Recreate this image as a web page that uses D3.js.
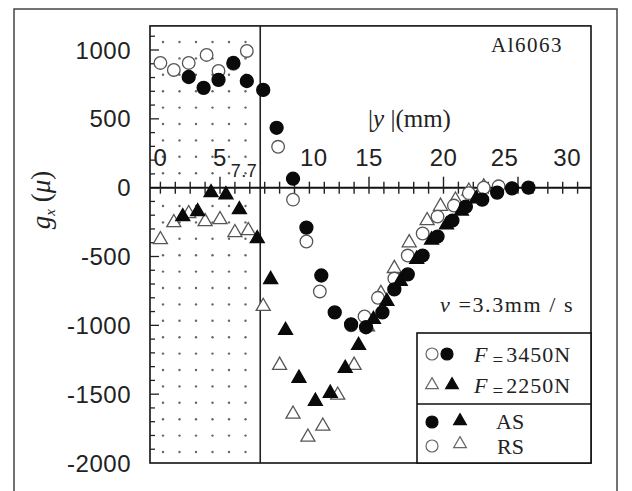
<!DOCTYPE html>
<html>
<head>
<meta charset="utf-8">
<script src="https://cdn.jsdelivr.net/npm/d3@7"></script>
<style>
  body { margin: 0; background: #fff; }
  svg { display: block; }
  .tick-label { font-family: "Liberation Sans", Arial, sans-serif; font-size: 24px; fill: #222; letter-spacing: 0.5px; }
  .serif { font-family: "Liberation Serif", "Times New Roman", serif; fill: #222; }
</style>
</head>
<body>
<svg width="632" height="491"></svg>
<script>
// **** data ****
var asHighX  = [2.9, 3.9, 4.9, 5.9, 6.8, 7.9, 8.8, 9.9, 10.8, 11.8, 12.7, 13.8, 14.8, 15.9, 16.7, 17.6, 18.6, 19.6, 20.6, 21.5, 22.6, 23.6, 24.6, 25.7];
var asHighY  = [804, 725, 783, 906, 775, 710, 435, 65, -290, -638, -906, -993, -1014, -906, -739, -630, -493, -355, -239, -138, -87, -36, -5, 0];
var rsHighX  = [1.0, 1.9, 2.9, 4.1, 4.9, 5.9, 6.8, 8.9, 9.9, 10.8, 11.7, 13.8, 14.7, 15.6, 16.7, 17.6, 18.6, 19.6, 20.7, 21.7, 22.7, 23.7];
var rsHighY  = [906, 855, 906, 964, 848, 899, 993, 297, -87, -391, -754, -1000, -935, -800, -660, -493, -333, -210, -130, -40, 0, 10];
var asLowX   = [2.5, 3.5, 4.4, 5.4, 6.3, 7.5, 8.4, 9.4, 10.3, 11.4, 12.4, 13.4, 14.3, 15.3, 16.2, 17.1, 18.2, 19.2, 20.2, 21.2, 22.2];
var asLowY   = [-210, -174, -36, -51, -159, -370, -667, -1036, -1384, -1551, -1493, -1312, -1145, -957, -826, -680, -520, -380, -270, -170, -80];
var rsLowX   = [1.0, 1.9, 2.9, 4.0, 5.0, 6.0, 6.9, 7.9, 9.0, 9.9, 10.9, 11.9, 12.9, 14.0, 14.9, 15.8, 16.7, 17.7, 18.9, 19.8, 20.8, 21.7, 22.7];
var rsLowY   = [-377, -254, -188, -246, -232, -326, -312, -862, -1290, -1645, -1812, -1732, -1507, -1290, -1010, -768, -587, -400, -239, -135, -90, -25, 5];

var xTicks = [0, 5, 10, 15, 20, 25, 30];
var xLabelPos = [1.0, 5.0, 11.3, 15.0, 20.0, 24.1, 28.3];
var yTicks = [1000, 500, 0, -500, -1000, -1500, -2000];
var boundary = 7.7;

// **** scales ****
var xScale = d3.scaleLinear().domain([0, 30]).range([145.5, 592.5]);
var yScale = d3.scaleLinear().domain([-2000, 1000]).range([463, 50]);

var svg = d3.select('svg');

var plotLeft = 150, plotRight = 591, plotTop = yScale(1175), plotBottom = 463;

// outer frame
svg.append('rect')
    .attr('x', 14).attr('y', 9)
    .attr('width', 603).attr('height', 500)
    .attr('fill', 'none').attr('stroke', '#444').attr('stroke-width', 1.5);

// dotted area left of 7.7
var dots = svg.append('g');
for (var gx = 163; gx < xScale(boundary) - 5; gx += 16.5) {
    for (var gy = 42; gy < plotBottom - 5; gy += 16.4) {
        if (Math.abs(gy - yScale(0)) < 6) continue;
        dots.append('circle').attr('cx', gx).attr('cy', gy)
            .attr('r', 1.2).attr('fill', '#666');
    }
}

// plot box
svg.append('rect')
    .attr('x', plotLeft).attr('y', plotTop)
    .attr('width', plotRight - plotLeft).attr('height', plotBottom - plotTop)
    .attr('fill', 'none').attr('stroke', '#111').attr('stroke-width', 1.6);

// 7.7 line
svg.append('line')
    .attr('x1', xScale(boundary)).attr('x2', xScale(boundary))
    .attr('y1', plotTop).attr('y2', plotBottom)
    .attr('stroke', '#222').attr('stroke-width', 1.6);

// y ticks on left edge
d3.range(-1900, 1200, 100).forEach(function(v) {
    var major = v % 500 === 0;
    svg.append('line')
        .attr('x1', plotLeft).attr('x2', plotLeft + (major ? 9 : 5))
        .attr('y1', yScale(v)).attr('y2', yScale(v))
        .attr('stroke', '#222').attr('stroke-width', 1.3);
});

svg.selectAll('.ylab').data(yTicks).enter().append('text')
    .attr('class', 'tick-label')
    .attr('x', 131)
    .attr('y', function(d) { return yScale(d); })
    .attr('dy', '0.36em')
    .attr('text-anchor', 'end')
    .text(function(d) { return d; });

// zero axis with ticks
svg.append('line')
    .attr('x1', plotLeft).attr('x2', plotRight)
    .attr('y1', yScale(0)).attr('y2', yScale(0))
    .attr('stroke', '#111').attr('stroke-width', 2);

d3.range(1, 30).forEach(function(v) {
    var major = v % 5 === 0;
    svg.append('line')
        .attr('x1', xScale(v)).attr('x2', xScale(v))
        .attr('y1', yScale(0) - (major ? 11 : 6)).attr('y2', yScale(0) + 6)
        .attr('stroke', '#222').attr('stroke-width', 1.4);
});

svg.selectAll('.xlab').data(xTicks).enter().append('text')
    .attr('class', 'tick-label')
    .attr('x', function(d, i) { return xScale(xLabelPos[i]); })
    .attr('y', 166)
    .attr('text-anchor', 'middle')
    .text(function(d) { return d; });

svg.append('text')
    .attr('class', 'tick-label')
    .attr('x', 244).attr('y', 177)
    .attr('text-anchor', 'middle')
    .style('font-size', '18px')
    .text('7.7');

// **** markers ****
function drawCircles(xs, ys, filled) {
    svg.append('g').selectAll('circle')
        .data(xs).enter().append('circle')
        .attr('cx', function(d) { return xScale(d); })
        .attr('cy', function(d, i) { return yScale(ys[i]); })
        .attr('r', filled ? 6.5 : 6.3)
        .attr('fill', filled ? '#0a0a0a' : '#fff')
        .attr('stroke', filled ? '#0a0a0a' : '#555')
        .attr('stroke-width', 1.3);
}

var tri = d3.symbol().type(d3.symbolTriangle).size(85);

function drawTriangles(xs, ys, filled) {
    svg.append('g').selectAll('path')
        .data(xs).enter().append('path')
        .attr('d', tri)
        .attr('transform', function(d, i) {
            return 'translate(' + xScale(d) + ',' + yScale(ys[i]) + ')';
        })
        .attr('fill', filled ? '#0a0a0a' : '#fff')
        .attr('stroke', filled ? '#0a0a0a' : '#555')
        .attr('stroke-width', 1.3);
}

drawTriangles(rsLowX, rsLowY, false);
drawCircles(rsHighX, rsHighY, false);
drawTriangles(asLowX, asLowY, true);
drawCircles(asHighX, asHighY, true);

// **** labels ****
svg.append('text').attr('class', 'serif')
    .attr('x', 491).attr('y', 52)
    .style('font-size', '21px').style('letter-spacing', '1.5px')
    .text('Al6063');

var yl = svg.append('text').attr('class', 'serif')
    .attr('x', 368).attr('y', 127)
    .style('font-size', '25px');
yl.append('tspan').text('|');
yl.append('tspan').style('font-style', 'italic').text('y');
yl.append('tspan').text(' |(mm)');

var vl = svg.append('text').attr('class', 'serif')
    .attr('x', 440).attr('y', 312)
    .style('font-size', '22px').style('letter-spacing', '1.6px');
vl.append('tspan').style('font-style', 'italic').text('v');
vl.append('tspan').text(' =3.3mm / s');

var ytitle = svg.append('text').attr('class', 'serif')
    .attr('transform', 'translate(50,200) rotate(-90)')
    .attr('text-anchor', 'middle')
    .style('font-size', '27px');
ytitle.append('tspan').style('font-style', 'italic').text('g');
ytitle.append('tspan').attr('dy', 5).style('font-size', '15px').style('font-style', 'italic').text('x');
ytitle.append('tspan').attr('dy', -5).text(' (');
ytitle.append('tspan').style('font-style', 'italic').text('μ');
ytitle.append('tspan').text(')');

// **** legend ****
var lg = svg.append('g');
lg.append('rect')
    .attr('x', 417).attr('y', 333).attr('width', plotRight - 417).attr('height', plotBottom - 333)
    .attr('fill', '#fff').attr('stroke', '#111').attr('stroke-width', 1.6);
lg.append('line')
    .attr('x1', 417).attr('x2', plotRight).attr('y1', 404).attr('y2', 404)
    .attr('stroke', '#111').attr('stroke-width', 1.6);

function legCircle(cx, cy, filled) {
    lg.append('circle').attr('cx', cx).attr('cy', cy).attr('r', 6)
        .attr('fill', filled ? '#0a0a0a' : '#fff')
        .attr('stroke', filled ? '#0a0a0a' : '#666').attr('stroke-width', 1.2);
}
function legTri(cx, cy, filled) {
    lg.append('path').attr('d', d3.symbol().type(d3.symbolTriangle).size(70))
        .attr('transform', 'translate(' + cx + ',' + cy + ')')
        .attr('fill', filled ? '#0a0a0a' : '#fff')
        .attr('stroke', filled ? '#0a0a0a' : '#666').attr('stroke-width', 1.2);
}

var forces = ['3450N', '2250N'];
legCircle(432, 354, false); legCircle(447, 354, true);
legTri(432, 385, false); legTri(452, 385, true);
forces.forEach(function(f, i) {
    var t = lg.append('text').attr('class', 'serif')
        .attr('x', 474).attr('y', 362 + i * 31)
        .style('font-size', '22px');
    t.append('tspan').style('font-style', 'italic').text('F');
    t.append('tspan').attr('dy', 4).attr('dx', 5).style('font-size', '19px').text('=');
    t.append('tspan').attr('dy', -4).attr('dx', 3).style('letter-spacing', '1px').text(f);
});

legCircle(432, 422, true); legTri(460, 421, true);
legCircle(432, 446, false); legTri(460, 444, false);
lg.append('text').attr('class', 'serif').attr('x', 496).attr('y', 429)
    .style('font-size', '22px').text('AS');
lg.append('text').attr('class', 'serif').attr('x', 497).attr('y', 454)
    .style('font-size', '22px').text('RS');
</script>
</body>
</html>
